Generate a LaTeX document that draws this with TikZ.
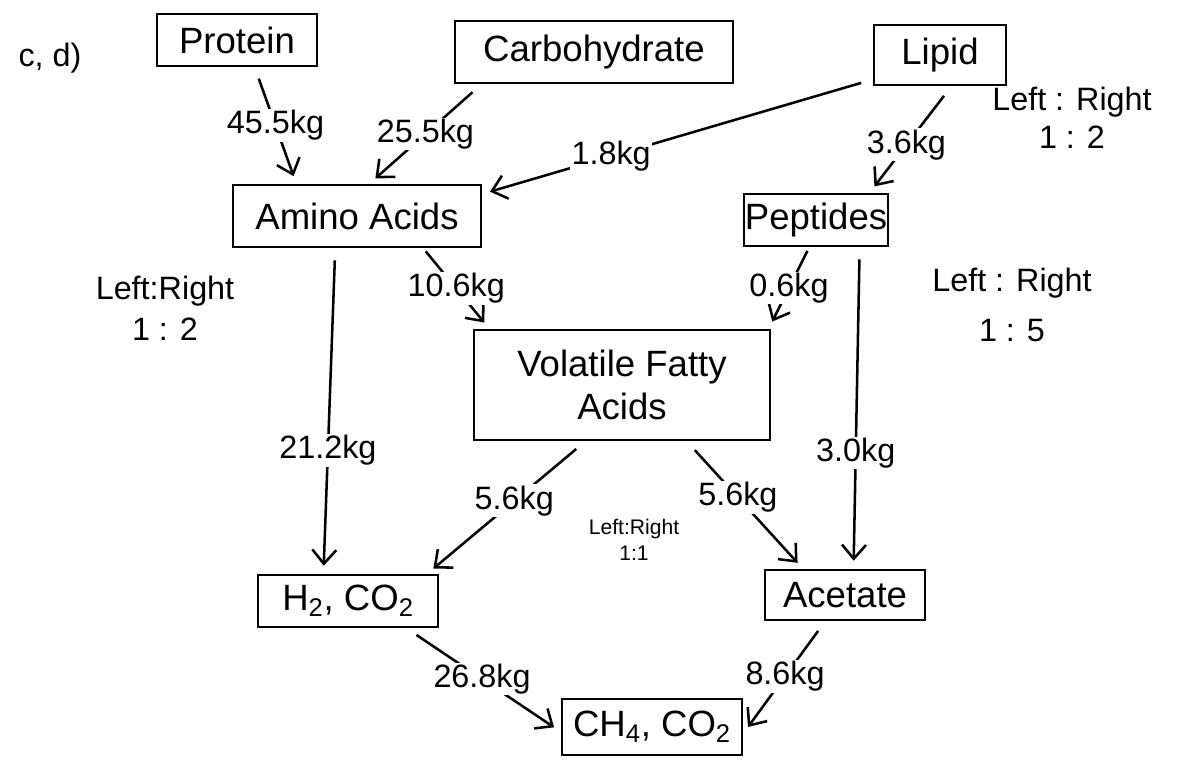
\documentclass[tikz,border=0pt]{standalone}
\usepackage{fontspec}
\setmainfont{Liberation Sans}
\usetikzlibrary{arrows.meta}

\begin{document}
\begin{tikzpicture}[x=0.025cm,y=-0.025cm,line width=1.8pt,
	box/.style={draw,font=\fontsize{26}{30}\selectfont,inner sep=0pt},
	flow/.style={-{Straight Barb[length=3.5mm,width=6mm]},shorten <=0.3cm,shorten >=0.2cm},
	amt/.style={fill=white,font=\fontsize{23}{27}\selectfont,inner sep=1pt},
	ratio/.style={font=\fontsize{23}{27}\selectfont,align=center}]
	\useasboundingbox (0,0) rectangle (1177,763);
	\node (cd) at (50,58)[ratio]{c, d)};
	\node (protein) at (237,40)[box,minimum width=4cm,minimum height=1.3cm]{Protein};
	\node (carb) at (594,52)[box,minimum width=6.95cm,minimum height=1.55cm]{Carbohydrate};
	\node (lipid) at (940,55)[box,minimum width=3.3cm,minimum height=1.5cm]{Lipid};
	\node (amino) at (357,216)[box,minimum width=6.2cm,minimum height=1.55cm]{Amino Acids};
	\node (peptides) at (816,220)[box,minimum width=3.6cm,minimum height=1.3cm]{Peptides};
	\node (vfa) at (622,385)[box,minimum width=7.4cm,minimum height=2.75cm,align=center]{Volatile Fatty\\Acids};
	\node (h2) at (348,601)[box,minimum width=4.5cm,minimum height=1.3cm]{H\textsubscript{2}, CO\textsubscript{2}};
	\node (acetate) at (845,595)[box,minimum width=4cm,minimum height=1.25cm]{Acetate};
	\node (ch4) at (652,727)[box,minimum width=4.5cm,minimum height=1.4cm]{CH\textsubscript{4}, CO\textsubscript{2}};
	\node (ratiolipid) at (1072,118)[ratio]{Left : Right\\1 : 2};
	\node (ratioamino) at (165,308)[ratio]{Left:Right\\[2pt]1 : 2};
	\node (ratiopep) at (1012,305)[ratio]{Left : Right\\[8pt]1 : 5};
	\node (ratiovfa) at (634,540)[ratio,font=\fontsize{15}{18}\selectfont]{Left:Right\\1:1};
	\draw[flow] (protein.-57) -- node[amt,pos=0.5]{45.5kg} (amino.152);
	\draw[flow] (carb.196) -- node[amt,pos=0.5]{25.5kg} (amino.69);
	\draw[flow] (lipid.200) -- node[amt,pos=0.67]{1.8kg} (amino.10);
	\draw[flow] (lipid.-70) -- node[amt,pos=0.55]{3.6kg} (peptides.27);
	\draw[flow,shorten <=0.1cm] (amino.-26) -- node[amt,pos=0.5]{10.6kg} (vfa.157);
	\draw[flow] (amino.236) -- node[amt,pos=0.62]{21.2kg} (h2.132);
	\draw[flow,shorten <=0.1cm] (peptides.256) -- node[amt,pos=0.5]{0.6kg} (vfa.21);
	\draw[flow] (peptides.-32) -- node[amt,pos=0.64]{3.0kg} (acetate.72);
	\draw[flow] (vfa.237) -- node[amt,pos=0.45]{5.6kg} (h2.19);
	\draw[flow] (vfa.-41) -- node[amt,pos=0.44]{5.6kg} (acetate.148);
	\draw[flow] (h2.-25) -- node[amt,pos=0.49]{26.8kg} (ch4.183);
	\draw[flow] (acetate.233) -- node[amt,pos=0.49]{8.6kg} (ch4.356);
\end{tikzpicture}
\end{document}
